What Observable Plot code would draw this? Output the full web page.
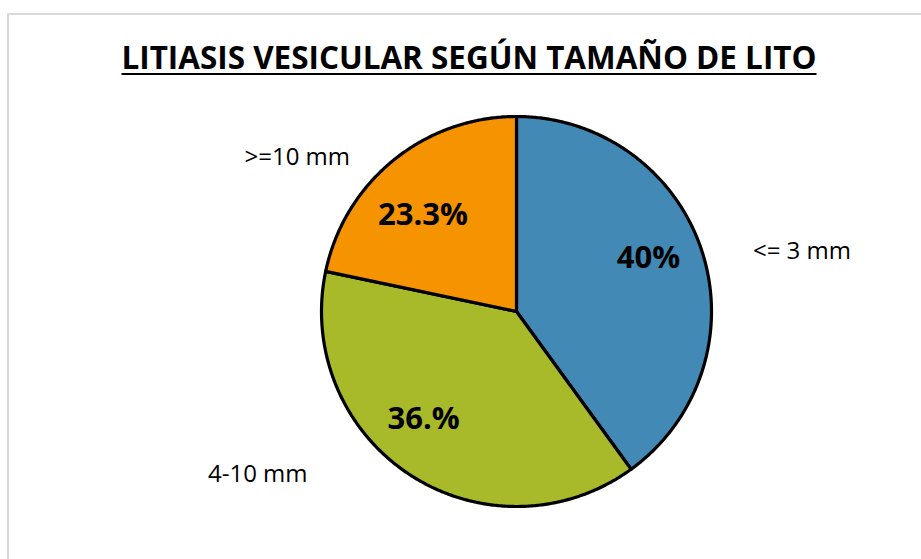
<!DOCTYPE html>
<html>
<head>
<meta charset="utf-8">
<script src="https://cdn.jsdelivr.net/npm/d3@7"></script>
<script src="https://cdn.jsdelivr.net/npm/@observablehq/plot@0.6"></script>
<style>
  html, body { margin: 0; padding: 0; background: #fff; width: 921px; height: 559px; overflow: hidden; }
  #frame { position: absolute; left: 7px; top: 13px; width: 1000px; height: 700px;
           border-left: 2px solid #d9d9d9; border-top: 2px solid #d9d9d9; }
  #wrap { position: absolute; left: 0; top: 0; width: 921px; }
  #title { position: relative; height: 85px; width: 921px; }
  #title span { position: absolute; left: 469px; top: 41px; white-space: nowrap;
                font-family: "Open Sans", "DejaVu Sans", sans-serif; font-weight: 700; font-size: 32.5px;
                line-height: 32px; color: #000; text-decoration: underline; text-decoration-thickness: 2px;
                text-underline-offset: 4px; transform-origin: 0 0; }
</style>
</head>
<body>
<div id="frame"></div>
<div id="wrap">
  <div id="title"><span>LITIASIS VESICULAR SEGÚN TAMAÑO DE LITO</span></div>
  <div id="chart"></div>
</div>
<script>
// ---- data ----
const categories = ["<= 3 mm", "4-10 mm", ">=10 mm"];
const sliceValues = [40, 38.3, 21.7];          // slice sizes as drawn
const valueLabels = ["40%", "36.%", "23.3%"];  // label texts as shown
const sliceColors = ["#428AB5", "#A8BA2A", "#F59300"];

// ---- layout (label placement relative to pie, unit radius) ----
const pctLabelPlace = [{da: -4, r: 0.73}, {da: 8, r: 0.727}, {da: -5, r: 0.69}];
const outerLabelPlace = [{a: 78.1, r: 1.496}, {a: 237.8, r: 1.568}, {a: 305.2, r: 1.376}];

const data = categories.map((c, i) => ({category: c, value: sliceValues[i], label: valueLabels[i], color: sliceColors[i]}));
const arcs = d3.pie().sort(null).value(d => d.value)(data);

// polygon outline for each slice (center -> arc -> center)
const rows = [];
arcs.forEach((a, i) => {
  const n = Math.max(2, Math.ceil((a.endAngle - a.startAngle) / (Math.PI / 360)));
  rows.push({slice: i, x: 0, y: 0, color: a.data.color});
  for (let k = 0; k <= n; k++) {
    const t = a.startAngle + (a.endAngle - a.startAngle) * k / n;
    rows.push({slice: i, x: Math.sin(t), y: Math.cos(t), color: a.data.color});
  }
  rows.push({slice: i, x: 0, y: 0, color: a.data.color});
});

const rad = Math.PI / 180;
const pctLabels = arcs.map((a, i) => {
  const mid = (a.startAngle + a.endAngle) / 2 + pctLabelPlace[i].da * rad;
  return {x: Math.sin(mid) * pctLabelPlace[i].r, y: Math.cos(mid) * pctLabelPlace[i].r, text: a.data.label};
});
const catLabels = data.map((d, i) => ({
  x: Math.sin(outerLabelPlace[i].a * rad) * outerLabelPlace[i].r,
  y: Math.cos(outerLabelPlace[i].a * rad) * outerLabelPlace[i].r,
  text: d.category
}));

const cx = 516, cy = 311 - 85, R = 195;
const chart = Plot.plot({
  width: 921,
  height: 474,
  margin: 0,
  style: {fontFamily: "'Open Sans', sans-serif", background: "transparent", overflow: "visible"},
  x: {domain: [-1, 1], range: [cx - R, cx + R], axis: null},
  y: {domain: [-1, 1], range: [cy + R, cy - R], axis: null},
  color: {type: "identity"},
  marks: [
    Plot.line(rows, {x: "x", y: "y", z: "slice", fill: "color", stroke: "black", strokeWidth: 3.2,
                     strokeLinejoin: "round", strokeLinecap: "round", curve: "linear"}),
    Plot.text(pctLabels, {x: "x", y: "y", text: "text", fontSize: 31, fontWeight: 700, fill: "black"}),
    Plot.text(catLabels, {x: "x", y: "y", text: "text", fontSize: 24, fill: "black"})
  ]
});
document.getElementById("chart").appendChild(chart);

// fit title width to the reference's condensed title
const span = document.querySelector("#title span");
const w = span.getBoundingClientRect().width;
const k = 695 / w;
span.style.transform = `translateX(${-w * k / 2}px) scaleX(${k})`;
</script>
</body>
</html>
